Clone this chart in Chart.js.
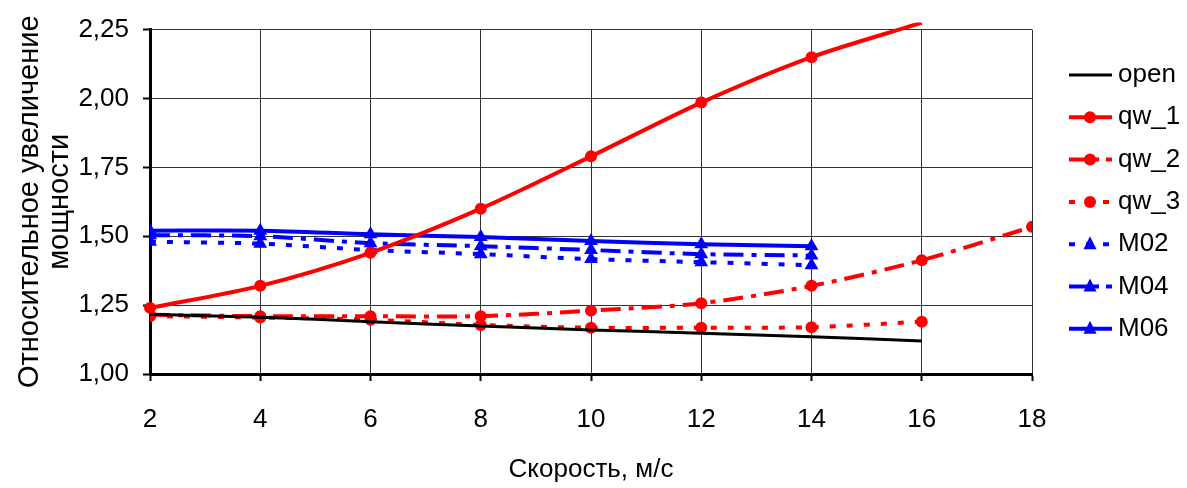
<!DOCTYPE html>
<html>
<head>
<meta charset="utf-8">
<script src="https://cdn.jsdelivr.net/npm/chart.js@4/dist/chart.umd.min.js"></script>
<style>
  html, body { margin: 0; padding: 0; background: #fff; }
  #wrap { width: 1187px; height: 488px; }
</style>
</head>
<body>
<div id="wrap"><canvas id="powerChart" width="1187" height="488"></canvas></div>
<script>
// speeds, m/s
const speeds = [2, 4, 6, 8, 10, 12, 14, 16, 18];

// relative power increase
const openVals = [1.217, 1.206, 1.19, 1.174, 1.16, 1.148, 1.135, 1.12];
const qw1Vals = [1.24, 1.32, 1.44, 1.60, 1.79, 1.985, 2.15, 2.275];
const qw2Vals = [1.215, 1.21, 1.21, 1.21, 1.23, 1.257, 1.32, 1.413, 1.534];
const qw3Vals = [1.21, 1.205, 1.197, 1.178, 1.168, 1.168, 1.17, 1.19];
const m02Vals = [1.48, 1.473, 1.45, 1.435, 1.417, 1.406, 1.395];
const m04Vals = [1.504, 1.50, 1.475, 1.464, 1.45, 1.435, 1.43];
const m06Vals = [1.52, 1.52, 1.507, 1.497, 1.483, 1.471, 1.464];

const yTicks = [1.00, 1.25, 1.50, 1.75, 2.00, 2.25];
const xTitle = 'Скорость, м/с';
const yTitle = ['Относительное увеличение', 'мощности'];

const FONT = 'Liberation Sans, Arial, sans-serif';

function pts(vals) {
  return vals.map((v, i) => ({ x: speeds[i], y: v }));
}

const dashDot = [20, 8, 5, 8];
const dots = [6, 11];

const datasets = [
  { label: 'open', data: pts(openVals), borderColor: '#000', borderWidth: 3, pointRadius: 0, tension: 0.3 },
  { label: 'qw_1', data: pts(qw1Vals), borderColor: '#ff0000', backgroundColor: '#ff0000', borderWidth: 4,
    pointStyle: 'circle', pointRadius: [6, 6, 6, 6, 6, 6, 6, 0], tension: 0.3,
    clip: { left: 10, right: 10, top: 7, bottom: 10 } },
  { label: 'qw_2', data: pts(qw2Vals), borderColor: '#ff0000', backgroundColor: '#ff0000', borderWidth: 4,
    borderDash: dashDot, pointStyle: 'circle', pointRadius: 6, tension: 0.3 },
  { label: 'qw_3', data: pts(qw3Vals), borderColor: '#ff0000', backgroundColor: '#ff0000', borderWidth: 4,
    borderDash: dots, pointStyle: 'circle', pointRadius: 6, tension: 0.3 },
  { label: 'M02', data: pts(m02Vals), borderColor: '#0000ff', backgroundColor: '#0000ff', borderWidth: 4,
    borderDash: dots, pointStyle: 'triangle', pointRadius: 8, tension: 0.3 },
  { label: 'M04', data: pts(m04Vals), borderColor: '#0000ff', backgroundColor: '#0000ff', borderWidth: 4,
    borderDash: dashDot, pointStyle: 'triangle', pointRadius: 8, tension: 0.3 },
  { label: 'M06', data: pts(m06Vals), borderColor: '#0000ff', backgroundColor: '#0000ff', borderWidth: 4,
    pointStyle: 'triangle', pointRadius: 8, tension: 0.3 }
];
datasets.forEach(d => { d.pointBorderWidth = 0; d.pointHoverRadius = d.pointRadius; });

// legend drawn next to the plot: line sample + marker + label
const sideLegend = {
  id: 'sideLegend',
  afterDraw(chart) {
    const ctx = chart.ctx;
    const x0 = 1069, x1 = 1112, xm = 1090, tx = 1118;
    ctx.save();
    chart.data.datasets.forEach((d, i) => {
      const y = 75 + i * 42.3;
      ctx.strokeStyle = d.borderColor;
      ctx.lineWidth = d.borderWidth;
      if (d.borderDash === dots) ctx.setLineDash([6, 11]);
      else if (d.borderDash === dashDot) ctx.setLineDash([30, 7, 6, 20]);
      else ctx.setLineDash([]);
      ctx.beginPath();
      ctx.moveTo(x0, y);
      ctx.lineTo(x1, y);
      ctx.stroke();
      ctx.setLineDash([]);
      const r = Array.isArray(d.pointRadius) ? d.pointRadius[0] : d.pointRadius;
      if (r > 0) {
        ctx.fillStyle = d.backgroundColor;
        ctx.beginPath();
        if (d.pointStyle === 'triangle') {
          ctx.moveTo(xm, y - 8);
          ctx.lineTo(xm + 6.5, y + 5);
          ctx.lineTo(xm - 6.5, y + 5);
          ctx.closePath();
        } else {
          ctx.arc(xm, y, r, 0, Math.PI * 2);
        }
        ctx.fill();
      }
      ctx.fillStyle = '#000';
      ctx.font = '26px ' + FONT;
      ctx.textAlign = 'left';
      ctx.textBaseline = 'middle';
      ctx.fillText(d.label, tx, y);
    });
    ctx.restore();
  }
};

new Chart(document.getElementById('powerChart'), {
  type: 'line',
  data: { datasets },
  options: {
    responsive: false,
    animation: false,
    events: [],
    layout: { padding: { top: 29, right: 155, left: 0, bottom: 0 } },
    plugins: { legend: { display: false }, tooltip: { enabled: false } },
    scales: {
      x: {
        type: 'linear',
        min: 2,
        max: 18,
        afterFit(s) { s.height = 114; },
        ticks: { stepSize: 2, color: '#000', font: { family: FONT, size: 26 }, padding: 23 },
        grid: { color: '#333', lineWidth: 1, tickColor: '#000', tickLength: 7, tickWidth: 2 },
        border: { color: '#000', width: 3 },
        title: { display: true, text: xTitle, color: '#000', font: { family: FONT, size: 26 }, padding: { top: 0, bottom: 3 } }
      },
      y: {
        min: 1,
        max: 2.25,
        afterFit(s) { s.width = 150; },
        afterBuildTicks(s) { s.ticks = yTicks.map(v => ({ value: v })); },
        ticks: {
          color: '#000',
          font: { family: FONT, size: 26 },
          padding: 14,
          callback: v => v.toFixed(2).replace('.', ',')
        },
        grid: { color: '#333', lineWidth: 1, tickColor: '#000', tickLength: 7, tickWidth: 2 },
        border: { color: '#000', width: 3 },
        title: { display: true, text: yTitle, color: '#000', font: { family: FONT, size: 29, lineHeight: 1.03 }, padding: { top: 15, bottom: 0 } }
      }
    }
  },
  plugins: [sideLegend]
});
</script>
</body>
</html>
